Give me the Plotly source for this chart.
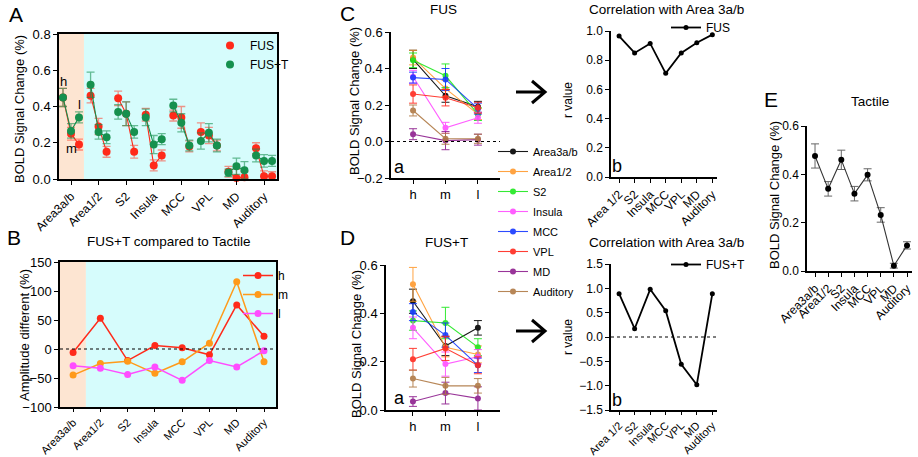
import plotly.graph_objects as go

W, H = 918, 457
def X(px): return px / W
def Y(py): return 1 - py / H

# ---------------- data ----------------
regions = ["Area3a/b", "Area1/2", "S2", "Insula", "MCC", "VPL", "MD", "Auditory"]
levels = ["h", "m", "l"]

fus_h = [0.45, 0.46, 0.445, 0.355, 0.35, 0.26, 0.04, 0.17]
fus_m = [0.25, 0.29, 0.36, 0.075, 0.34, 0.24, 0.005, 0.015]
fus_l = [0.19, 0.15, 0.15, 0.13, 0.18, 0.185, 0.01, 0.015]
fus_h_err = [0.05, 0.04, 0.04, 0.035, 0.03, 0.05, 0.03, 0.03]
fus_m_err = [0.035, 0.045, 0.065, 0.03, 0.06, 0.045, 0.05, 0.03]
fus_l_err = [0.03, 0.03, 0.035, 0.03, 0.03, 0.03, 0.03, 0.025]

fust_h = [0.45, 0.52, 0.37, 0.34, 0.405, 0.21, 0.035, 0.13]
fust_m = [0.265, 0.26, 0.36, 0.19, 0.31, 0.255, 0.07, 0.10]
fust_l = [0.34, 0.23, 0.26, 0.22, 0.185, 0.185, 0.048, 0.10]
fust_h_err = [0.05, 0.07, 0.04, 0.045, 0.035, 0.045, 0.02, 0.035]
fust_m_err = [0.04, 0.04, 0.065, 0.05, 0.05, 0.05, 0.045, 0.035]
fust_l_err = [0.03, 0.035, 0.035, 0.03, 0.03, 0.035, 0.048, 0.03]

diff_h = [-6, 53, -20, 6, 2, -10, 76, 22]
diff_m = [-45, -25, -21, -42, -22, 10, 116, -22]
diff_l = [-29, -33, -44, -31, -54, -20, -31, -3]

corr_regions = ["Area 1/2", "S2", "Insula", "MCC", "VPL", "MD", "Auditory"]
r_fus = [0.965, 0.85, 0.915, 0.71, 0.85, 0.92, 0.975]
r_fust = [0.89, 0.17, 0.98, 0.54, -0.56, -0.98, 0.89]

tactile = [0.476, 0.34, 0.46, 0.32, 0.398, 0.232, 0.022, 0.106]
tactile_err = [0.05, 0.03, 0.04, 0.03, 0.025, 0.03, 0.01, 0.015]

region_colors = ["#000000", "#ff9a2e", "#1fe81f", "#ff4dff", "#1638ff", "#ff2a1f", "#8e1f8e", "#b07a45"]

FONT = "Liberation Sans, Arial, sans-serif"
fig = go.Figure()

# ---------------- panel A ----------------
offs = [-0.29, 0.0, 0.29]
def grouped(hv, mv, lv, he, me, le):
    xs, ys, es = [], [], []
    for i in range(len(regions)):
        for k, (v, e) in enumerate(zip((hv[i], mv[i], lv[i]), (he[i], me[i], le[i]))):
            xs.append(i + offs[k]); ys.append(v); es.append(e)
        xs.append(None); ys.append(None); es.append(None)
    return xs, ys, es

for name, vals, col, ecol in [
    ("FUS", (fus_h, fus_m, fus_l, fus_h_err, fus_m_err, fus_l_err), "#ff2a1a", "rgba(255,60,40,0.55)"),
    ("FUS+T", (fust_h, fust_m, fust_l, fust_h_err, fust_m_err, fust_l_err), "#16904e", "rgba(22,144,78,0.6)"),
]:
    xs, ys, es = grouped(*vals)
    fig.add_trace(go.Scatter(x=xs, y=ys, mode="lines", name=name, showlegend=False,
                             line=dict(color=col, width=1.1),
                             xaxis="x", yaxis="y", cliponaxis=False))
    fig.add_trace(go.Scatter(x=xs, y=ys, mode="markers", name=name,
                             marker=dict(color=col, size=8),
                             error_y=dict(type="data", array=es, color=ecol, thickness=1.3, width=4),
                             xaxis="x", yaxis="y", legend="legend", cliponaxis=False))

# ---------------- panel B ----------------
for name, vals, col in [("h", diff_h, "#ff2a1a"), ("m", diff_m, "#ff9a1a"), ("l", diff_l, "#ff4dff")]:
    fig.add_trace(go.Scatter(x=list(range(len(regions))), y=vals, mode="lines+markers", name=name,
                             line=dict(color=col, width=1.5), marker=dict(color=col, size=7),
                             xaxis="x2", yaxis="y2", legend="legend2", cliponaxis=False))

# ---------------- panels C-a and D-a ----------------
for i, reg in enumerate(regions):
    col = region_colors[i]
    fig.add_trace(go.Scatter(x=[0, 1, 2], y=[fus_h[i], fus_m[i], fus_l[i]], mode="lines+markers", name=reg,
                             line=dict(color=col, width=1.1), marker=dict(color=col, size=6),
                             error_y=dict(type="data", array=[fus_h_err[i], fus_m_err[i], fus_l_err[i]],
                                          color=col, thickness=1, width=4),
                             opacity=0.9, xaxis="x3", yaxis="y3", legend="legend3", legendgroup=reg,
                             cliponaxis=False))
    fig.add_trace(go.Scatter(x=[0, 1, 2], y=[fust_h[i], fust_m[i], fust_l[i]], mode="lines+markers", name=reg,
                             line=dict(color=col, width=1.1), marker=dict(color=col, size=6),
                             error_y=dict(type="data", array=[fust_h_err[i], fust_m_err[i], fust_l_err[i]],
                                          color=col, thickness=1, width=4),
                             opacity=0.9, xaxis="x4", yaxis="y4", showlegend=False, legendgroup=reg,
                             cliponaxis=False))

# ---------------- panels C-b and D-b ----------------
fig.add_trace(go.Scatter(x=list(range(len(corr_regions))), y=r_fus, mode="lines+markers", name="FUS",
                         line=dict(color="black", width=1.8), marker=dict(color="black", size=5),
                         xaxis="x5", yaxis="y5", legend="legend4", cliponaxis=False))
fig.add_trace(go.Scatter(x=list(range(len(corr_regions))), y=r_fust, mode="lines+markers", name="FUS+T",
                         line=dict(color="black", width=1.8), marker=dict(color="black", size=5),
                         xaxis="x6", yaxis="y6", legend="legend5", cliponaxis=False))

# ---------------- panel E ----------------
fig.add_trace(go.Scatter(x=list(range(len(regions))), y=tactile, mode="lines+markers", name="Tactile",
                         line=dict(color="#333333", width=1.1), marker=dict(color="black", size=6),
                         error_y=dict(type="data", array=tactile_err, color="#666666", thickness=1, width=4),
                         xaxis="x7", yaxis="y7", showlegend=False, cliponaxis=False))

# ---------------- axes ----------------
big = dict(family=FONT, size=13, color="black")
small = dict(family=FONT, size=12, color="black")
smaller = dict(family=FONT, size=11, color="black")
def ax(domain, **kw):
    d = dict(domain=domain, showgrid=False, zeroline=False, showline=True, linecolor="black",
             linewidth=1.5, ticks="outside", ticklen=4, tickwidth=1.3, tickcolor="black",
             automargin=False, tickfont=big)
    d.update(kw)
    return d

cat8 = dict(tickmode="array", tickvals=list(range(8)), ticktext=regions, tickangle=-45)
cat7 = dict(tickmode="array", tickvals=list(range(7)), ticktext=corr_regions, tickangle=-45)

fig.update_layout(
    xaxis=ax([X(59), X(277)], range=[-0.435, 7.47], mirror=True, anchor="y", tickfont=small, **cat8),
    yaxis=ax([Y(179), Y(34)], range=[0, 0.8], dtick=0.2, tickformat=".1f", mirror=True, anchor="x"),
    xaxis2=ax([X(60), X(276)], range=[-0.48, 7.44], mirror=True, anchor="y2", tickfont=smaller,
              ticklen=3, **cat8),
    yaxis2=ax([Y(407), Y(262)], range=[-100, 150], dtick=50, mirror=True, anchor="x2"),
    xaxis3=ax([X(391), X(500)], range=[-0.68, 2.68], anchor="y3", tickmode="array",
              tickvals=[0, 1, 2], ticktext=levels),
    yaxis3=ax([Y(178), Y(32)], range=[-0.2, 0.6], dtick=0.2, tickformat=".1f", anchor="x3"),
    xaxis4=ax([X(386), X(500)], range=[-0.83, 2.68], anchor="y4", tickmode="array",
              tickvals=[0, 1, 2], ticktext=levels),
    yaxis4=ax([Y(410), Y(265)], range=[0, 0.6], dtick=0.2, tickformat=".1f", anchor="x4"),
    xaxis5=ax([X(611), X(717)], range=[-0.52, 6.3], anchor="y5", tickfont=small, **cat7),
    yaxis5=ax([Y(177), Y(31)], range=[0, 1.0], dtick=0.2, tickformat=".1f", anchor="x5", tickfont=small),
    xaxis6=ax([X(611), X(717)], range=[-0.52, 6.3], anchor="y6", tickfont=smaller, ticklen=3, **cat7),
    yaxis6=ax([Y(410), Y(264)], range=[-1.5, 1.5], dtick=0.5, tickformat=".1f", anchor="x6", tickfont=small),
    xaxis7=ax([X(807), X(912)], range=[-0.61, 7.38], anchor="y7", tickfont=small, **cat8),
    yaxis7=ax([Y(271), Y(126)], range=[0, 0.6], dtick=0.2, tickformat=".1f", anchor="x7", tickfont=small),
)

# ---------------- legends ----------------
leg = dict(bgcolor="rgba(0,0,0,0)", borderwidth=0, xanchor="left", yanchor="top",
           font=dict(family=FONT, size=12, color="black"), itemwidth=30)
fig.update_layout(
    legend=dict(leg, x=X(210), y=Y(31)),
    legend2=dict(leg, x=X(238), y=Y(261)),
    legend3=dict(leg, x=X(493), y=Y(137), tracegroupgap=1, font=dict(family=FONT, size=11, color="black")),
    legend4=dict(leg, x=X(666), y=Y(13)),
    legend5=dict(leg, x=X(666), y=Y(250)),
)

# ---------------- shapes ----------------
shapes = []
for xr, yr in [("x", "y"), ("x2", "y2")]:
    shapes.append(dict(type="rect", xref=xr, yref=yr + " domain", x0=-0.6, x1=0.47, y0=0, y1=1,
                       fillcolor="#fde5d2", line=dict(width=0), layer="below"))
    shapes.append(dict(type="rect", xref=xr, yref=yr + " domain", x0=0.47, x1=7.6, y0=0, y1=1,
                       fillcolor="#d6fcfc", line=dict(width=0), layer="below"))
for xr, yr in [("x2", "y2"), ("x3", "y3"), ("x6", "y6")]:
    shapes.append(dict(type="line", xref=xr + " domain", yref=yr, x0=0, x1=1, y0=0, y1=0,
                       line=dict(color="black", width=1.2, dash="dot")))
# arrows
for ay in (92, 331):
    path = "M{},{} L{},{} M{},{} L{},{} L{},{}".format(
        X(516), Y(ay), X(545), Y(ay), X(532), Y(ay - 11), X(545), Y(ay), X(532), Y(ay + 11))
    shapes.append(dict(type="path", xref="paper", yref="paper", path=path,
                       line=dict(color="black", width=3)))
fig.update_layout(shapes=shapes)

# ---------------- annotations ----------------
def txt(x, y, s, size=13, angle=0, **kw):
    return dict(x=X(x), y=Y(y), xref="paper", yref="paper", text=s, showarrow=False,
                font=dict(family=FONT, size=size, color="black"), textangle=angle,
                xanchor="center", yanchor="middle", **kw)

ann = [
    txt(16, 15, "A", 21), txt(14, 237, "B", 21), txt(347, 13, "C", 21), txt(347, 237, "D", 21),
    txt(771, 99, "E", 21),
    txt(20, 109, "BOLD Signal Change (%)", 13, -90),
    txt(24, 335, "Amplitude different (%)", 13, -90),
    txt(354, 101, "BOLD Signal Change (%)", 13, -90),
    txt(356, 344, "BOLD Signal Change (%)", 13, -90),
    txt(568, 100, "r value", 12, -90),
    txt(568, 337, "r value", 12, -90),
    txt(774, 195, "BOLD Signal Change (%)", 13, -90),
    txt(168, 241, "FUS+T compared to Tactile", 13.5),
    txt(443, 9, "FUS", 13.5), txt(446, 243, "FUS+T", 13.5),
    txt(666, 9, "Correlation with Area 3a/b", 13.5), txt(666, 242, "Correlation with Area 3a/b", 13.5),
    txt(870, 102, "Tactile", 13.5),
    txt(63, 82, "h", 13), txt(79, 104, "l", 13), txt(71, 148, "m", 13),
    txt(399, 167, "a", 18), txt(399, 398, "a", 18), txt(617, 166, "b", 18), txt(617, 400, "b", 18),
]
fig.update_layout(annotations=ann)

fig.update_layout(width=W, height=H, margin=dict(l=0, r=0, t=0, b=0, autoexpand=False),
                  paper_bgcolor="white", plot_bgcolor="rgba(0,0,0,0)",
                  font=dict(family=FONT, size=12, color="black"))

fig.write_html("out.html", config={"displayModeBar": False},
               post_script="document.body.style.margin='0px';document.body.style.overflow='hidden';")
